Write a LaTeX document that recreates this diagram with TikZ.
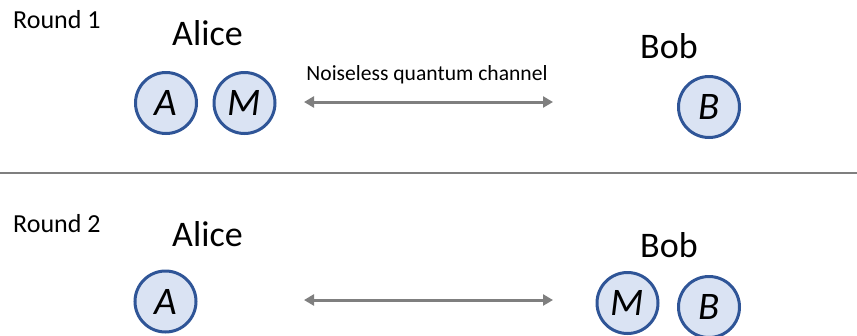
\documentclass[tikz,border=0pt]{standalone}
\usepackage{fontspec}
\setmainfont{Carlito}
\usetikzlibrary{arrows.meta}
\definecolor{qfill}{HTML}{DAE3F3}
\definecolor{qdraw}{HTML}{2F5597}
\definecolor{chgray}{HTML}{7F7F7F}
\tikzset{
  qubit/.style={circle, draw=qdraw, fill=qfill, line width=3pt, minimum size=61pt, inner sep=0pt,
    font=\fontsize{39}{44}\selectfont\itshape},
  roundlbl/.style={anchor=base west, inner sep=0pt, font=\fontsize{26}{30}\selectfont},
  party/.style={anchor=base west, inner sep=0pt, font=\fontsize{36}{42}\selectfont},
  chlbl/.style={anchor=base, inner sep=0pt, font=\fontsize{21.6}{25}\selectfont},
  channel/.style={draw=chgray, line width=3pt, {Triangle[length=10pt,width=11pt]}-{Triangle[length=10pt,width=11pt]}},
  divider/.style={draw=chgray, line width=2pt}
}
\begin{document}
\begin{tikzpicture}[x=1pt,y=-1pt]
\useasboundingbox (0,0) rectangle (857,335);
% Round 1
\node[roundlbl] (r1) at (13,28) {Round 1};
\node[party] (alice1) at (172,45) {Alice};
\node[party] (bob1) at (640,58) {Bob};
\node[qubit] (A1) at (166,103) {A};
\node[qubit] (M1) at (244.5,103) {M};
\node[qubit] (B1) at (709,107) {B};
\node[chlbl] (ch1) at (427,80) {Noiseless quantum channel};
\coordinate (c1l) at (304,102);
\coordinate (c1r) at (553,102);
\draw[channel] (c1l) -- (c1r);
% divider
\coordinate (dl) at (0,173);
\coordinate (dr) at (857,173);
\draw[divider] (dl) -- (dr);
% Round 2
\node[roundlbl] (r2) at (13,232) {Round 2};
\node[party] (alice2) at (172,246) {Alice};
\node[party] (bob2) at (640,257) {Bob};
\node[qubit] (A2) at (165.5,301.5) {A};
\node[qubit] (M2) at (627.5,303) {M};
\node[qubit] (B2) at (709,307) {B};
\coordinate (c2l) at (304,300);
\coordinate (c2r) at (553,300);
\draw[channel] (c2l) -- (c2r);
\end{tikzpicture}
\end{document}
